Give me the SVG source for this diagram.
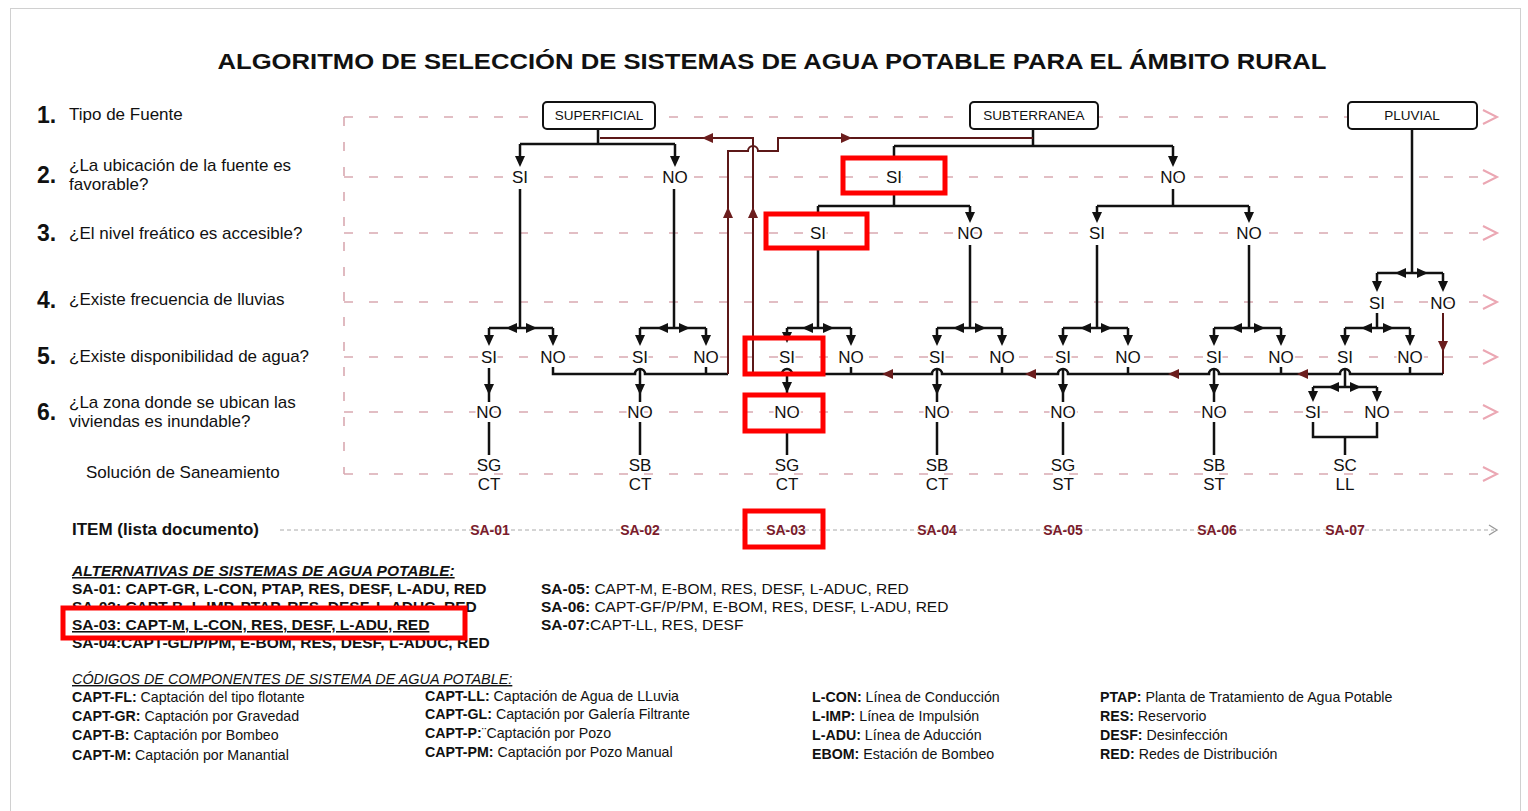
<svg xmlns="http://www.w3.org/2000/svg" xmlns:xlink="http://www.w3.org/1999/xlink" width="1528" height="811" viewBox="0 0 1528 811">
<style>
text{font-family:"Liberation Sans",Arial,sans-serif;fill:#111}
.title{font-size:22px;font-weight:bold;text-anchor:middle}
.num{font-size:23px;font-weight:bold}
.q{font-size:17px}
.row{stroke:#d9a9b1;stroke-width:1.6;stroke-dasharray:9 16;fill:none}
.chev{stroke:#eba7b3;stroke-width:2;fill:none}
.item{stroke:#aaa;stroke-width:1;stroke-dasharray:4 3;fill:none}
.ln{stroke:#111;stroke-width:2.5;fill:none}
.lp{stroke:#5c1818;stroke-width:2;fill:none}
.box{fill:#fff;stroke:#111;stroke-width:2}
.bt{font-size:13.5px;text-anchor:middle}
.lbl{font-size:17px;text-anchor:middle;paint-order:stroke;stroke:#fff;stroke-width:4px}
.sa{font-size:14px;font-weight:bold;text-anchor:middle;fill:#7a1c2c}
.hl{fill:none;stroke:#f00;stroke-width:5}
.leg{font-size:15.5px}
.legb{font-size:15.5px;font-weight:bold}
.code{font-size:14.2px}
.ab{fill:#111}
.ar{fill:#6b1d1d}
</style>
<defs>
<path id="ad" d="M0,0 L-5,-11 L5,-11 Z"/>
</defs>
<rect x="10.5" y="8.5" width="1510" height="830" fill="#fff" stroke="#d0d0d0" stroke-width="1"/>

<text class="title" x="772" y="69" textLength="1109" lengthAdjust="spacingAndGlyphs">ALGORITMO DE SELECCIÓN DE SISTEMAS DE AGUA POTABLE PARA EL ÁMBITO RURAL</text>

<g id="row-labels">
<text class="num" x="37" y="123">1.</text><text class="q" x="69" y="120">Tipo de Fuente</text>
<text class="num" x="37" y="183">2.</text><text class="q" x="69" y="171">¿La ubicación de la fuente es</text><text class="q" x="69" y="190">favorable?</text>
<text class="num" x="37" y="241">3.</text><text class="q" x="69" y="239">¿El nivel freático es accesible?</text>
<text class="num" x="37" y="308">4.</text><text class="q" x="69" y="305">¿Existe frecuencia de lluvias</text>
<text class="num" x="37" y="364">5.</text><text class="q" x="69" y="362">¿Existe disponibilidad de agua?</text>
<text class="num" x="37" y="420">6.</text><text class="q" x="69" y="408">¿La zona donde se ubican las</text><text class="q" x="69" y="427">viviendas es inundable?</text>
<text class="q" x="86" y="478">Solución de Saneamiento</text>
<text class="q" x="72" y="535" font-weight="bold">ITEM (lista documento)</text>
</g>

<g id="guides">
<path class="row" d="M344,117 V474"/>
<path class="row" d="M344,117 H1490 M344,177 H1490 M344,233 H1490 M344,302 H1490 M344,357 H1490 M344,412 H1490 M344,474 H1490"/>
<path class="chev" d="M1483,110 L1497,117 L1483,124 M1483,170 L1497,177 L1483,184 M1483,226 L1497,233 L1483,240 M1483,295 L1497,302 L1483,309 M1483,350 L1497,357 L1483,364 M1483,405 L1497,412 L1483,419 M1483,467 L1497,474 L1483,481"/>
<path class="item" d="M280,530 H1494"/>
<path d="M1489,525 L1497,530 L1489,535" fill="none" stroke="#999" stroke-width="1.3"/>
</g>

<g id="connectors">
<!-- SUPERFICIAL -->
<path class="ln" d="M598,129 V144 M520,144 H675 M520,144 V160 M675,144 V160"/>
<use href="#ad" class="ab" transform="translate(520,167)"/>
<use href="#ad" class="ab" transform="translate(675,167)"/>
<path class="ln" d="M520,189 V328 M489,328 H553 M489,328 V340 M553,328 V340"/>
<use href="#ad" class="ab" transform="translate(506,328) rotate(90)"/>
<use href="#ad" class="ab" transform="translate(537,328) rotate(-90)"/>
<use href="#ad" class="ab" transform="translate(489,346)"/>
<use href="#ad" class="ab" transform="translate(553,346)"/>
<path class="ln" d="M674,189 V328 M640,328 H706 M640,328 V340 M706,328 V340"/>
<use href="#ad" class="ab" transform="translate(657,328) rotate(90)"/>
<use href="#ad" class="ab" transform="translate(690,328) rotate(-90)"/>
<use href="#ad" class="ab" transform="translate(640,346)"/>
<use href="#ad" class="ab" transform="translate(706,346)"/>
<path class="ln" d="M489,368 V402 M640,368 V402 M489,422 V455 M640,422 V455"/>
<use href="#ad" class="ab" transform="translate(489,395)"/>
<use href="#ad" class="ab" transform="translate(640,395)"/>

<!-- SUBTERRANEA -->
<path class="ln" d="M1033,129 V146 M894,146 H1173 M894,146 V158 M1173,146 V160"/>
<use href="#ad" class="ab" transform="translate(1173,167)"/>
<path class="ln" d="M894,193 V206 M818,206 H970 M818,206 V214 M970,206 V216"/>
<use href="#ad" class="ab" transform="translate(970,223)"/>
<path class="ln" d="M1173,189 V206 M1097,206 H1249 M1097,206 V216 M1249,206 V216"/>
<use href="#ad" class="ab" transform="translate(1097,223)"/>
<use href="#ad" class="ab" transform="translate(1249,223)"/>
<path class="ln" d="M818,248 V328 M970,245 V328 M1097,245 V328 M1249,245 V328"/>
<path class="ln" d="M787,328 H851 M787,328 V336 M851,328 V340 M937,328 H1002 M937,328 V340 M1002,328 V340 M1063,328 H1128 M1063,328 V340 M1128,328 V340 M1214,328 H1281 M1214,328 V340 M1281,328 V340"/>
<use href="#ad" class="ab" transform="translate(802,328) rotate(90)"/>
<use href="#ad" class="ab" transform="translate(834,328) rotate(-90)"/>
<use href="#ad" class="ab" transform="translate(953,328) rotate(90)"/>
<use href="#ad" class="ab" transform="translate(986,328) rotate(-90)"/>
<use href="#ad" class="ab" transform="translate(1080,328) rotate(90)"/>
<use href="#ad" class="ab" transform="translate(1112,328) rotate(-90)"/>
<use href="#ad" class="ab" transform="translate(1231,328) rotate(90)"/>
<use href="#ad" class="ab" transform="translate(1265,328) rotate(-90)"/>
<use href="#ad" class="ab" transform="translate(787,343)"/>
<use href="#ad" class="ab" transform="translate(851,346)"/>
<use href="#ad" class="ab" transform="translate(937,346)"/>
<use href="#ad" class="ab" transform="translate(1002,346)"/>
<use href="#ad" class="ab" transform="translate(1063,346)"/>
<use href="#ad" class="ab" transform="translate(1128,346)"/>
<use href="#ad" class="ab" transform="translate(1214,346)"/>
<use href="#ad" class="ab" transform="translate(1281,346)"/>
<path class="ln" d="M787,374 V396 M937,368 V402 M1063,368 V402 M1214,368 V402"/>
<use href="#ad" class="ab" transform="translate(787,393)"/>
<use href="#ad" class="ab" transform="translate(937,395)"/>
<use href="#ad" class="ab" transform="translate(1063,395)"/>
<use href="#ad" class="ab" transform="translate(1214,395)"/>
<path class="ln" d="M787,431 V455 M937,422 V455 M1063,422 V455 M1214,422 V455"/>

<!-- PLUVIAL -->
<path class="ln" d="M1412,129 V273 M1377,273 H1443 M1377,273 V286 M1443,273 V286"/>
<use href="#ad" class="ab" transform="translate(1395,273) rotate(90)"/>
<use href="#ad" class="ab" transform="translate(1428,273) rotate(-90)"/>
<use href="#ad" class="ab" transform="translate(1377,292)"/>
<use href="#ad" class="ab" transform="translate(1443,292)"/>
<path class="ln" d="M1377,313 V328 M1345,328 H1410 M1345,328 V340 M1410,328 V340"/>
<use href="#ad" class="ab" transform="translate(1361,328) rotate(90)"/>
<use href="#ad" class="ab" transform="translate(1394,328) rotate(-90)"/>
<use href="#ad" class="ab" transform="translate(1345,346)"/>
<use href="#ad" class="ab" transform="translate(1410,346)"/>
<path class="ln" d="M1345,368 V387 M1313,387 H1377 M1313,387 V396 M1377,387 V396"/>
<use href="#ad" class="ab" transform="translate(1328,387) rotate(90)"/>
<use href="#ad" class="ab" transform="translate(1361,387) rotate(-90)"/>
<use href="#ad" class="ab" transform="translate(1313,402)"/>
<use href="#ad" class="ab" transform="translate(1377,402)"/>
<path class="ln" d="M1313,422 V437 H1377 V422 M1345,437 V455"/>

<!-- loop-back lines -->
<path class="ln" stroke-width="2" d="M553,367 V374 H635 a5,5 0 0 1 10,0 H728 M706,367 V374"/>
<path class="lp" d="M728,374 V151 H748 a5,5 0 0 1 10,0 H778 V138 H1033"/>
<use href="#ad" class="ar" transform="translate(728,207) rotate(180)"/>
<use href="#ad" class="ar" transform="translate(852,138) rotate(-90)"/>
<path class="lp" d="M1443,313 V374"/>
<use href="#ad" class="ar" transform="translate(1443,352)"/>
<path class="ln" stroke-width="2" d="M1443,374 H1350 a5,5 0 0 0 -10,0 H1219 a5,5 0 0 0 -10,0 H1068 a5,5 0 0 0 -10,0 H942 a5,5 0 0 0 -10,0 H792 a5,5 0 0 0 -10,0 H753 M851,367 V374 M1002,367 V374 M1128,367 V374 M1281,367 V374 M1410,367 V374"/>
<use href="#ad" class="ar" transform="translate(1297,374) rotate(90)"/>
<use href="#ad" class="ar" transform="translate(1168,374) rotate(90)"/>
<use href="#ad" class="ar" transform="translate(1025,374) rotate(90)"/>
<use href="#ad" class="ar" transform="translate(882,374) rotate(90)"/>
<path class="lp" d="M753,374 V138 H600"/>
<use href="#ad" class="ar" transform="translate(753,207) rotate(180)"/>
<use href="#ad" class="ar" transform="translate(702,138) rotate(90)"/>
</g>

<g id="n-superficial"><rect class="box" x="543" y="102" width="112" height="27" rx="4"/><text class="bt" x="599" y="120">SUPERFICIAL</text></g>
<g id="n-subterranea"><rect class="box" x="970" y="102" width="128" height="27" rx="4"/><text class="bt" x="1034" y="120">SUBTERRANEA</text></g>
<g id="n-pluvial"><rect class="box" x="1348" y="102" width="129" height="27" rx="4"/><text class="bt" x="1412" y="120">PLUVIAL</text></g>

<g id="answers">
<text class="lbl" x="520" y="183">SI</text><text class="lbl" x="675" y="183">NO</text>
<text class="lbl" x="894" y="183">SI</text><text class="lbl" x="1173" y="183">NO</text>
<text class="lbl" x="818" y="239">SI</text><text class="lbl" x="970" y="239">NO</text><text class="lbl" x="1097" y="239">SI</text><text class="lbl" x="1249" y="239">NO</text>
<text class="lbl" x="1377" y="309">SI</text><text class="lbl" x="1443" y="309">NO</text>
<text class="lbl" x="489" y="363">SI</text><text class="lbl" x="553" y="363">NO</text>
<text class="lbl" x="640" y="363">SI</text><text class="lbl" x="706" y="363">NO</text>
<text class="lbl" x="787" y="363">SI</text><text class="lbl" x="851" y="363">NO</text>
<text class="lbl" x="937" y="363">SI</text><text class="lbl" x="1002" y="363">NO</text>
<text class="lbl" x="1063" y="363">SI</text><text class="lbl" x="1128" y="363">NO</text>
<text class="lbl" x="1214" y="363">SI</text><text class="lbl" x="1281" y="363">NO</text>
<text class="lbl" x="1345" y="363">SI</text><text class="lbl" x="1410" y="363">NO</text>
<text class="lbl" x="489" y="418">NO</text><text class="lbl" x="640" y="418">NO</text><text class="lbl" x="787" y="418">NO</text>
<text class="lbl" x="937" y="418">NO</text><text class="lbl" x="1063" y="418">NO</text><text class="lbl" x="1214" y="418">NO</text>
<text class="lbl" x="1313" y="418">SI</text><text class="lbl" x="1377" y="418">NO</text>
</g>

<g id="solutions">
<text class="lbl" x="489" y="471">SG</text><text class="lbl" x="489" y="490">CT</text>
<text class="lbl" x="640" y="471">SB</text><text class="lbl" x="640" y="490">CT</text>
<text class="lbl" x="787" y="471">SG</text><text class="lbl" x="787" y="490">CT</text>
<text class="lbl" x="937" y="471">SB</text><text class="lbl" x="937" y="490">CT</text>
<text class="lbl" x="1063" y="471">SG</text><text class="lbl" x="1063" y="490">ST</text>
<text class="lbl" x="1214" y="471">SB</text><text class="lbl" x="1214" y="490">ST</text>
<text class="lbl" x="1345" y="471">SC</text><text class="lbl" x="1345" y="490">LL</text>
</g>

<g id="items">
<text class="sa" x="490" y="535">SA-01</text>
<text class="sa" x="640" y="535">SA-02</text>
<text class="sa" x="786" y="535">SA-03</text>
<text class="sa" x="937" y="535">SA-04</text>
<text class="sa" x="1063" y="535">SA-05</text>
<text class="sa" x="1217" y="535">SA-06</text>
<text class="sa" x="1345" y="535">SA-07</text>
</g>

<g id="legend-alternativas">
<text x="72" y="576" font-size="15.5" font-weight="bold" font-style="italic" text-decoration="underline">ALTERNATIVAS DE SISTEMAS DE AGUA POTABLE:</text>
<text class="legb" x="72" y="594">SA-01: CAPT-GR, L-CON, PTAP, RES, DESF, L-ADU, RED</text>
<text class="legb" x="72" y="612">SA-02: CAPT-B, L-IMP, PTAP, RES, DESF, L-ADUC, RED</text>
<rect x="65" y="609" width="399" height="28" fill="#fff"/>
<text class="legb" x="72" y="630" text-decoration="underline">SA-03: CAPT-M, L-CON, RES, DESF, L-ADU, RED</text>
<text class="legb" x="72" y="648">SA-04:CAPT-GL/P/PM, E-BOM, RES, DESF, L-ADUC, RED</text>
<text class="leg" x="541" y="594"><tspan font-weight="bold">SA-05:</tspan> CAPT-M, E-BOM, RES, DESF, L-ADUC, RED</text>
<text class="leg" x="541" y="612"><tspan font-weight="bold">SA-06:</tspan> CAPT-GF/P/PM, E-BOM, RES, DESF, L-ADU, RED</text>
<text class="leg" x="541" y="630"><tspan font-weight="bold">SA-07:</tspan>CAPT-LL, RES, DESF</text>
</g>

<g id="legend-codigos">
<text x="72" y="684" font-size="14.4" font-style="italic" text-decoration="underline">CÓDIGOS DE COMPONENTES DE SISTEMA DE AGUA POTABLE:</text>
<text class="code" x="72" y="702"><tspan font-weight="bold">CAPT-FL:</tspan> Captación del tipo flotante</text>
<text class="code" x="72" y="721"><tspan font-weight="bold">CAPT-GR:</tspan> Captación por Gravedad</text>
<text class="code" x="72" y="740"><tspan font-weight="bold">CAPT-B:</tspan> Captación por Bombeo</text>
<text class="code" x="72" y="760"><tspan font-weight="bold">CAPT-M:</tspan> Captación por Manantial</text>
<text class="code" x="425" y="701"><tspan font-weight="bold">CAPT-LL:</tspan> Captación de Agua de LLuvia</text>
<text class="code" x="425" y="719"><tspan font-weight="bold">CAPT-GL:</tspan> Captación por Galería Filtrante</text>
<text class="code" x="425" y="738"><tspan font-weight="bold">CAPT-P:</tspan>¨Captación por Pozo</text>
<text class="code" x="425" y="757"><tspan font-weight="bold">CAPT-PM:</tspan> Captación por Pozo Manual</text>
<text class="code" x="812" y="702"><tspan font-weight="bold">L-CON:</tspan> Línea de Conducción</text>
<text class="code" x="812" y="721"><tspan font-weight="bold">L-IMP:</tspan> Línea de Impulsión</text>
<text class="code" x="812" y="740"><tspan font-weight="bold">L-ADU:</tspan> Línea de Aducción</text>
<text class="code" x="812" y="759"><tspan font-weight="bold">EBOM:</tspan> Estación de Bombeo</text>
<text class="code" x="1100" y="702"><tspan font-weight="bold">PTAP:</tspan> Planta de Tratamiento de Agua Potable</text>
<text class="code" x="1100" y="721"><tspan font-weight="bold">RES:</tspan> Reservorio</text>
<text class="code" x="1100" y="740"><tspan font-weight="bold">DESF:</tspan> Desinfección</text>
<text class="code" x="1100" y="759"><tspan font-weight="bold">RED:</tspan> Redes de Distribución</text>
</g>

<g id="highlights">
<rect class="hl" x="843" y="158" width="102" height="35"/>
<rect class="hl" x="766" y="214" width="101" height="34"/>
<rect class="hl" x="745" y="338" width="78" height="36"/>
<rect class="hl" x="745" y="395" width="78" height="36"/>
<rect class="hl" x="745" y="511" width="78" height="36"/>
<rect class="hl" x="63" y="608" width="402" height="30"/>
</g>
</svg>
